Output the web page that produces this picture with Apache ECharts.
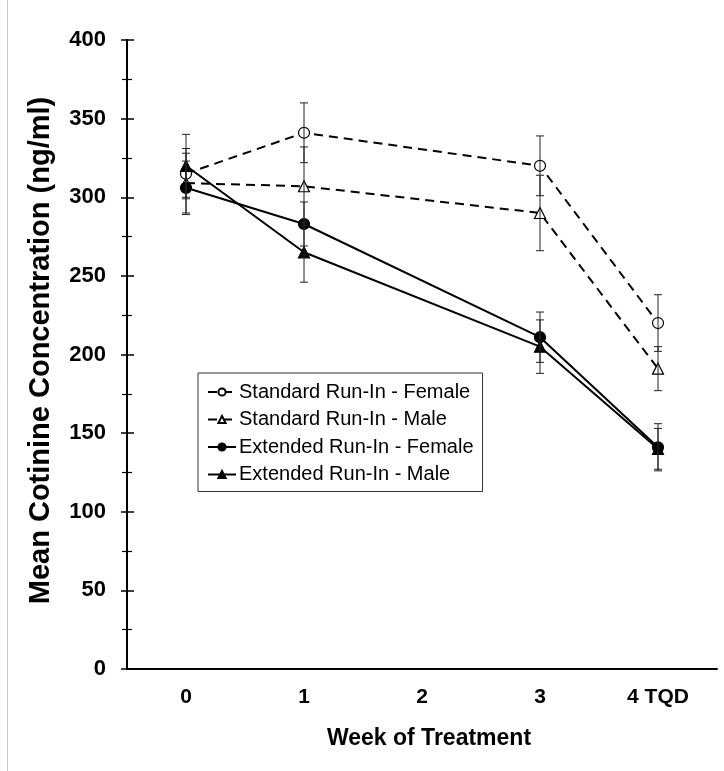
<!DOCTYPE html>
<html>
<head>
<meta charset="utf-8">
<script src="https://cdn.jsdelivr.net/npm/echarts@6/dist/echarts.min.js"></script>
<style>
  html, body { margin: 0; padding: 0; background: #fff; }
  #chart { width: 724px; height: 771px; }
</style>
</head>
<body>
<div id="chart"></div>
<script>
// weeks of treatment (week 2 has no measurement)
var weeks = ['0', '1', '2', '3', '4 TQD'];
var yTicks = [0, 50, 100, 150, 200, 250, 300, 350, 400];

// mean cotinine (ng/ml) and error bar half-widths
var stdFemale = [315, 341, null, 320, 220];
var stdFemaleErr = [16, 19, null, 19, 18];
var stdMale = [309, 307, null, 290, 191];
var stdMaleErr = [19, 25, null, 24, 14];
var extFemale = [306, 283, null, 211, 141];
var extFemaleErr = [17, 14, null, 16, 15];
var extMale = [320, 265, null, 205, 140];
var extMaleErr = [20, 19, null, 17, 13];

var names = [
    'Standard Run-In - Female',
    'Standard Run-In - Male',
    'Extended Run-In - Female',
    'Extended Run-In - Male'
];

function errData(mean, err) {
    var out = [];
    for (var i = 0; i < mean.length; i++) {
        if (mean[i] == null) continue;
        out.push([i, mean[i] - err[i], mean[i] + err[i]]);
    }
    return out;
}

function renderBar(params, api) {
    var lo = api.coord([api.value(0), api.value(1)]);
    var hi = api.coord([api.value(0), api.value(2)]);
    var cap = 4;
    var st = { stroke: '#222', lineWidth: 1 };
    return {
        type: 'group',
        children: [
            { type: 'line', shape: { x1: lo[0], y1: lo[1], x2: hi[0], y2: hi[1] }, style: st },
            { type: 'line', shape: { x1: lo[0] - cap, y1: lo[1], x2: lo[0] + cap, y2: lo[1] }, style: st },
            { type: 'line', shape: { x1: hi[0] - cap, y1: hi[1], x2: hi[0] + cap, y2: hi[1] }, style: st }
        ]
    };
}

function lineSeries(name, data, dashed, symbol, filled) {
    return {
        name: name,
        type: 'line',
        data: data,
        connectNulls: true,
        symbol: symbol,
        symbolSize: 11,
        z: 3,
        lineStyle: { color: '#000', width: 2, type: dashed ? [9, 6] : 'solid' },
        itemStyle: { color: filled ? '#000' : '#fff', borderColor: '#000', borderWidth: 1.2 },
        emphasis: { disabled: true }
    };
}

function barSeries(mean, err) {
    return {
        type: 'custom',
        data: errData(mean, err),
        renderItem: renderBar,
        z: 4,
        silent: true
    };
}

var dom = document.getElementById('chart');
var myChart = echarts.init(dom, null, { renderer: 'canvas' });

var font = '"Liberation Sans", Arial, sans-serif';

var option = {
    backgroundColor: '#fff',
    animation: false,
    textStyle: { fontFamily: font },
    grid: { left: 127, right: 7, top: 40, bottom: 102 },
    legend: {
        data: names,
        orient: 'vertical',
        left: 198,
        top: 373,
        padding: [9, 9, 7, 9],
        itemWidth: 28,
        itemHeight: 9,
        itemGap: 7.5,
        backgroundColor: '#fff',
        borderColor: '#333',
        borderWidth: 1,
        borderRadius: 0,
        textStyle: { fontFamily: font, fontSize: 20, color: '#000', padding: [0, 0, 0, -2], lineHeight: 20 }
    },
    xAxis: {
        type: 'category',
        data: weeks,
        boundaryGap: true,
        name: 'Week of Treatment',
        nameLocation: 'middle',
        nameGap: 58,
        nameTextStyle: { fontFamily: font, fontSize: 23, fontWeight: 'bold', color: '#000', padding: [0, 0, 0, 14] },
        axisLine: { lineStyle: { color: '#000', width: 2 } },
        axisTick: { show: false },
        axisLabel: { fontFamily: font, fontSize: 21, fontWeight: 'bold', color: '#000', margin: 18 },
        splitLine: { show: false }
    },
    yAxis: [{
        type: 'value',
        min: yTicks[0],
        max: yTicks[yTicks.length - 1],
        interval: 50,
        name: 'Mean Cotinine Concentration (ng/ml)',
        nameLocation: 'middle',
        nameGap: 72,
        nameTextStyle: { fontFamily: font, fontSize: 29, fontWeight: 'bold', color: '#000', padding: [0, 0, 0, 8] },
        axisLine: { show: true, lineStyle: { color: '#000', width: 2 } },
        axisTick: { show: true, inside: false, length: 6, lineStyle: { color: '#000', width: 1.5 } },
        minorTick: { show: true, splitNumber: 2, length: 5, lineStyle: { color: '#000', width: 1.2 } },
        axisLabel: { fontFamily: font, fontSize: 22, fontWeight: 'bold', color: '#000', margin: 21 },
        splitLine: { show: false }
    }, {
        // second copy of the axis only for ticks on the inner side
        type: 'value',
        position: 'left',
        min: yTicks[0],
        max: yTicks[yTicks.length - 1],
        interval: 50,
        axisLine: { show: false },
        axisTick: { show: true, inside: true, length: 7, lineStyle: { color: '#000', width: 1.5 } },
        minorTick: { show: true, splitNumber: 2, length: 5, lineStyle: { color: '#000', width: 1.2 } },
        axisLabel: { show: false },
        splitLine: { show: false }
    }],
    graphic: [{
        type: 'line',
        shape: { x1: 7.5, y1: 0, x2: 7.5, y2: 771 },
        style: { stroke: '#c8c8c8', lineWidth: 1 },
        silent: true
    }],
    series: [
        lineSeries(names[0], stdFemale, true, 'circle', false),
        lineSeries(names[1], stdMale, true, 'triangle', false),
        lineSeries(names[2], extFemale, false, 'circle', true),
        lineSeries(names[3], extMale, false, 'triangle', true),
        barSeries(stdFemale, stdFemaleErr),
        barSeries(stdMale, stdMaleErr),
        barSeries(extFemale, extFemaleErr),
        barSeries(extMale, extMaleErr)
    ]
};

myChart.setOption(option);

window.addEventListener('resize', myChart.resize);
</script>
</body>
</html>
